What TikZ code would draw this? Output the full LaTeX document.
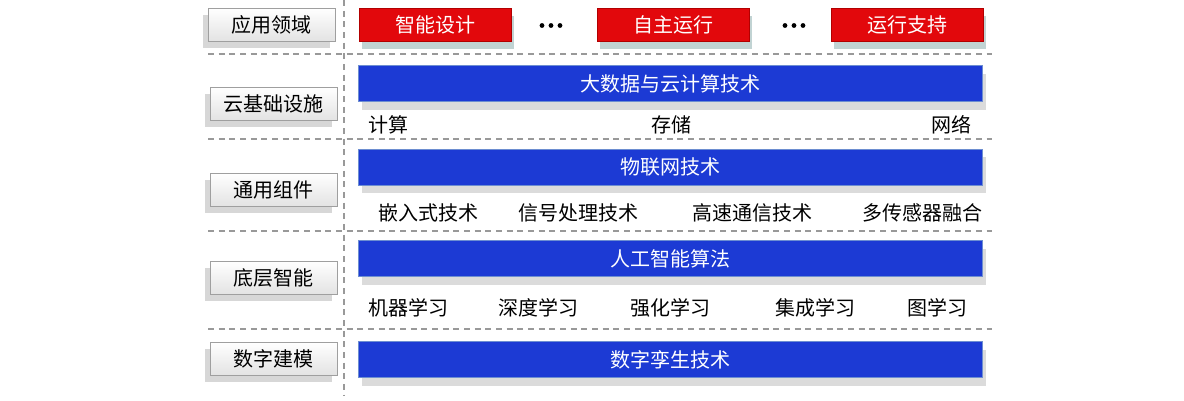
\documentclass[tikz,border=0pt]{standalone}
\usepackage{fontspec}
\setmainfont{Noto Sans CJK SC}
\usetikzlibrary{shadows}
\definecolor{layerred}{RGB}{226,8,12}
\definecolor{layerblue}{RGB}{28,58,212}
\begin{document}
\begin{tikzpicture}[x=0.75pt, y=-0.75pt, font=\fontsize{15}{18}\selectfont,
    layer/.style={draw=gray!75, top color=white, bottom color=gray!22, minimum width=95.25pt, minimum height=24.75pt, inner sep=0pt,
      drop shadow={shadow xshift=-4pt, shadow yshift=-5pt, fill=gray!70, opacity=0.45}},
    appbox/.style={draw=red!70!black, fill=layerred, text=white, minimum width=114pt, minimum height=24.75pt, inner sep=0pt,
      drop shadow={shadow xshift=2pt, shadow yshift=-6pt, fill=gray!60!teal, opacity=0.35}},
    techbar/.style={draw=cyan!40!blue!60, fill=layerblue, text=white, minimum width=468pt, minimum height=27pt, inner sep=0pt,
      drop shadow={shadow xshift=3pt, shadow yshift=-6pt, fill=gray!70, opacity=0.4}},
    sep/.style={gray!80, line width=0.9pt, dash pattern=on 4.5pt off 3.5pt}]
    \useasboundingbox (0,0) rectangle (1184,400);
    % separators
    \foreach \y in {54,139,231,329} \draw[sep] (208,\y) -- (992,\y);
    \draw[sep] (344,0) -- (344,395);
    % layer names
    \node[layer] (app) at (271.5,24.5) {应用领域};
    \node[layer] (cloud) at (273.5,103.5) {云基础设施};
    \node[layer] (comp) at (273.5,189.5) {通用组件};
    \node[layer] (intel) at (273.5,277.5) {底层智能};
    \node[layer] (model) at (273.5,358.5) {数字建模};
    % applications
    \node[appbox] (design) at (435,24.5) {智能设计};
    \node[appbox] (oper) at (673,24.5) {自主运行};
    \node[appbox] (support) at (907.5,24.5) {运行支持};
    \foreach \x in {542,551,560,785,794,803} \fill (\x,25.5) circle (2.4);
    % technology bars
    \node[techbar] (bigdata) at (670,83.5) {大数据与云计算技术};
    \node[techbar] (iot) at (670,167) {物联网技术};
    \node[techbar] (ai) at (670,258.5) {人工智能算法};
    \node[techbar] (twin) at (670,359.5) {数字孪生技术};
    % items
    \foreach \x/\t [count=\i] in {388/计算, 671/存储, 951/网络}
        \node (infra\i) at (\x,124.5) {\t};
    \foreach \x/\t [count=\i] in {428/嵌入式技术, 578/信号处理技术, 752/高速通信技术, 922/多传感器融合}
        \node (part\i) at (\x,213) {\t};
    \foreach \x/\t [count=\i] in {408/机器学习, 538/深度学习, 670/强化学习, 815/集成学习, 937/图学习}
        \node (algo\i) at (\x,307.5) {\t};
\end{tikzpicture}
\end{document}
